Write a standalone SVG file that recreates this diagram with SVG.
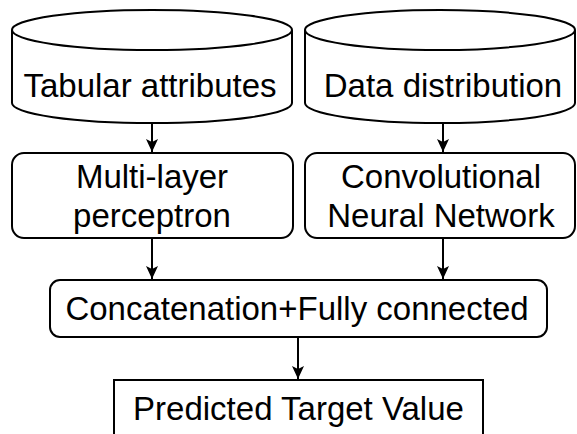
<svg xmlns="http://www.w3.org/2000/svg" width="577" height="434" viewBox="0 0 577 434">
<style>
.s{fill:#fff;stroke:#000;stroke-width:2}
.t{font-family:"Liberation Sans",Arial,sans-serif;font-size:33px;fill:#000;text-anchor:middle}
.c{fill:none;stroke:#000;stroke-width:2}
</style>
<defs>
<marker id="a" markerUnits="userSpaceOnUse" markerWidth="14" markerHeight="14" viewBox="0 0 14 14" refX="13" refY="7" orient="auto">
<path d="M0,1 L13,7 L0,13 L3,7 Z" fill="#000"/>
</marker>
</defs>
<g id="connectors">
<line class="c" x1="152" y1="123" x2="152" y2="152" marker-end="url(#a)"/>
<line class="c" x1="443" y1="123" x2="443" y2="152" marker-end="url(#a)"/>
<line class="c" x1="152" y1="238" x2="152" y2="279" marker-end="url(#a)"/>
<line class="c" x1="443" y1="238" x2="443" y2="279" marker-end="url(#a)"/>
<line class="c" x1="298" y1="337" x2="298" y2="379" marker-end="url(#a)"/>
</g>
<g id="tabular">
<path class="s" d="M12,30 A140,20 0 0 1 292,30 L292,103 A140,20 0 0 1 12,103 Z"/>
<path class="c" d="M12,30 A140,20 0 0 0 292,30"/>
<text class="t" x="150" y="97">Tabular attributes</text>
</g>
<g id="distribution">
<path class="s" d="M305,30 A135,20 0 0 1 575,30 L575,103 A135,20 0 0 1 305,103 Z"/>
<path class="c" d="M305,30 A135,20 0 0 0 575,30"/>
<text class="t" x="443" y="97">Data distribution</text>
</g>
<g id="mlp">
<rect class="s" x="12" y="153" width="281" height="85" rx="12"/>
<text class="t" x="152" y="188">Multi-layer</text>
<text class="t" x="152" y="227">perceptron</text>
</g>
<g id="cnn">
<rect class="s" x="305" y="153" width="270" height="85" rx="12"/>
<text class="t" x="441" y="188">Convolutional</text>
<text class="t" x="441" y="227">Neural Network</text>
</g>
<g id="concat">
<rect class="s" x="50" y="280" width="497" height="57" rx="10"/>
<text class="t" x="297" y="320">Concatenation+Fully connected</text>
</g>
<g id="predicted">
<rect class="s" x="114" y="380" width="369" height="80"/>
<text class="t" x="298.5" y="420">Predicted Target Value</text>
</g>
</svg>
